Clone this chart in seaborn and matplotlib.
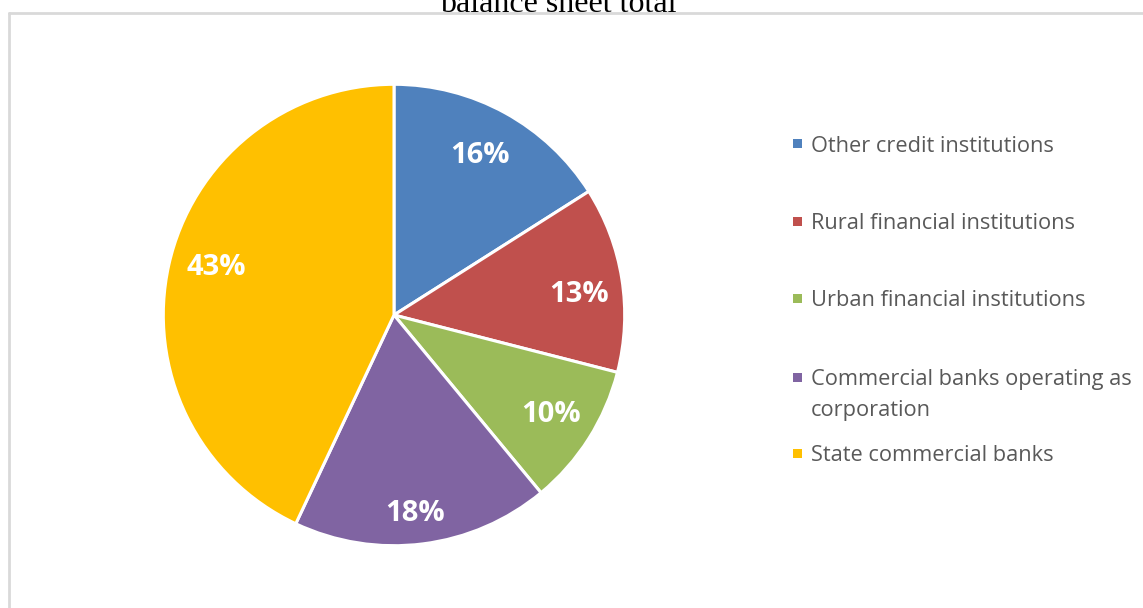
import matplotlib
matplotlib.use("Agg")
import numpy as np
import matplotlib.pyplot as plt
import seaborn as sns
from matplotlib.patches import Rectangle
from matplotlib.lines import Line2D

sns.set_theme(style="white")
plt.rcParams['font.family'] = ['Open Sans', 'DejaVu Sans']

# Data
categories = [
    "Other credit institutions",
    "Rural financial institutions",
    "Urban financial institutions",
    "Commercial banks operating as\ncorporation",
    "State commercial banks",
]
shares = [16, 13, 10, 18, 43]
colors = ["#4F81BD", "#C0504D", "#9BBB59", "#8064A2", "#FFC000"]
title = "balance sheet total"

# label placement style (radial distance factor, angular nudge in degrees)
label_dist = [0.80, 0.81, 0.80, 0.85, 0.80]
label_nudge = [1.0, -1.5, 1.0, -1.0, -3.3]

W, H = 1143, 608
fig = plt.figure(figsize=(W / 100, H / 100), dpi=100)
fig.patch.set_facecolor("white")

# Pie axes: center (394, 315) px, radius ~231 px
cx, cy, r = 394, 315, 233
ax = fig.add_axes([(cx - r) / W, (H - cy - r) / H, 2 * r / W, 2 * r / H])
wedges, texts, autotexts = ax.pie(
    shares,
    colors=colors,
    startangle=90,
    counterclock=False,
    autopct=lambda p: f"{p:.0f}%",
    pctdistance=0.8,
    wedgeprops=dict(edgecolor="white", linewidth=2.2),
    textprops=dict(color="white", fontsize=21, fontweight="bold"),
    radius=1.0,
)
for w, t, d, n in zip(wedges, autotexts, label_dist, label_nudge):
    ang = np.deg2rad((w.theta1 + w.theta2) / 2 + n)
    t.set_position((d * np.cos(ang), d * np.sin(ang)))
    t.set_verticalalignment("center_baseline")
ax.set_xlim(-1.01, 1.01)
ax.set_ylim(-1.01, 1.01)
ax.set_aspect("equal")
ax.axis("off")

# Border of the chart area
border_color = "#D9D9D9"
fig.add_artist(Line2D([9 / W, 1.0], [1 - 13 / H, 1 - 13 / H], transform=fig.transFigure,
                      color=border_color, linewidth=2))
fig.add_artist(Line2D([9 / W, 9 / W], [0, 1 - 13 / H], transform=fig.transFigure,
                      color=border_color, linewidth=2))

# Title, cut off at the top of the picture
fig.text(558 / W, 1 - 12 / H, title, ha="center", va="baseline",
         fontsize=23, family=["Liberation Serif", "DejaVu Serif"], color="black")

# Legend (manual, to match the layout)
legend_y = [143.5, 221, 298.5, 377, 453]
line_gap = 31
for lab, col, yy in zip(categories, colors, legend_y):
    fig.add_artist(Rectangle((793 / W, 1 - (yy + 4.5) / H), 9 / W, 9 / H,
                             transform=fig.transFigure, facecolor=col, edgecolor="none"))
    for i, line in enumerate(lab.split("\n")):
        fig.text(811 / W, 1 - (yy + i * line_gap) / H, line, ha="left",
                 va="center_baseline", fontsize=15.7, color="#595959")

fig.savefig("out.png", dpi=100, facecolor="white")
